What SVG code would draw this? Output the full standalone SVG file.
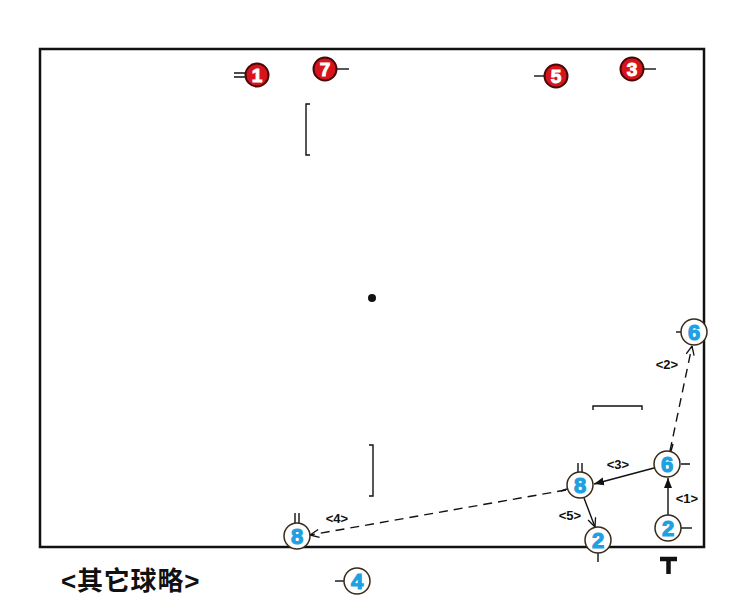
<svg xmlns="http://www.w3.org/2000/svg" width="743" height="600" viewBox="0 0 743 600">
<style>
.court{fill:none;stroke:#111;stroke-width:2.5}
.ln{stroke:#111;stroke-width:1.4;fill:none}
.red{fill:#d7141c;stroke:#4a0808;stroke-width:2}
.rt{font-family:"Liberation Sans",Arial,sans-serif;font-weight:bold;font-size:19px;fill:#fff;stroke:#fff;stroke-width:1;text-anchor:middle}
.blue{fill:#fff;stroke:#3a2a1a;stroke-width:1.5}
.bt{font-family:"Liberation Sans",Arial,sans-serif;font-weight:bold;font-size:22px;fill:#1ea0e2;stroke:#1ea0e2;stroke-width:1.2;text-anchor:middle}
.lab{font-family:"Liberation Sans",Arial,sans-serif;font-weight:bold;font-size:13px;fill:#111;text-anchor:middle}
.arr{stroke:#111;stroke-width:1.4;fill:none}
.dash{stroke-dasharray:9,6}
</style>
<defs>
<marker id="fill" viewBox="0 0 10 10" refX="10" refY="5" markerWidth="10" markerHeight="10" orient="auto" markerUnits="userSpaceOnUse">
<path d="M0,1 L10,5 L0,9 z" fill="#111"/>
</marker>
<marker id="open" viewBox="0 0 10 10" refX="10" refY="5" markerWidth="10" markerHeight="10" orient="auto" markerUnits="userSpaceOnUse">
<path d="M1,1 L10,5 L1,9" fill="none" stroke="#111" stroke-width="1.3"/>
</marker>
</defs>
<rect x="0" y="0" width="743" height="600" fill="#fff"/>
<rect class="court" x="40" y="49" width="664" height="498"/>
<g id="marks">
<path class="ln" d="M310,104 H306 V155 H310"/>
<path class="ln" d="M369,445 H373 V496 H369"/>
<circle cx="372" cy="298" r="4" fill="#111"/>
<path class="ln" d="M593,410 V406 H642 V410"/>
<path d="M660,559 H677 M668.5,559 V574" stroke="#111" stroke-width="4.5" fill="none"/>
</g>
<g id="connectors">
<line class="arr" x1="668" y1="515" x2="668" y2="478" marker-end="url(#fill)"/>
<line class="arr dash" x1="670" y1="451" x2="692" y2="346" marker-end="url(#open)"/>
<line class="arr" x1="654" y1="468" x2="594" y2="484" marker-end="url(#fill)"/>
<line class="arr dash" x1="566" y1="490" x2="310" y2="535" marker-end="url(#open)"/>
<line class="arr" x1="584" y1="498" x2="595" y2="527" marker-end="url(#open)"/>
<text class="lab" x="687" y="503">&lt;1&gt;</text>
<text class="lab" x="667" y="369">&lt;2&gt;</text>
<text class="lab" x="618" y="469">&lt;3&gt;</text>
<text class="lab" x="337" y="523">&lt;4&gt;</text>
<text class="lab" x="570" y="520">&lt;5&gt;</text>
</g>
<g id="r1"><path class="ln" d="M234,73 H246 M234,77 H246"/><circle class="red" cx="257" cy="75" r="11.5"/><text class="rt" x="257" y="82">1</text></g>
<g id="r7"><path class="ln" d="M336,69 H349"/><circle class="red" cx="325" cy="69" r="11.5"/><text class="rt" x="325" y="76">7</text></g>
<g id="r5"><path class="ln" d="M534,76 H545"/><circle class="red" cx="556" cy="76" r="11.5"/><text class="rt" x="556" y="83">5</text></g>
<g id="r3"><path class="ln" d="M643,69 H656"/><circle class="red" cx="632" cy="69" r="11.5"/><text class="rt" x="632" y="76">3</text></g>
<g id="b6a"><path class="ln" d="M676,332 H681"/><circle class="blue" cx="694" cy="332" r="13"/><text class="bt" x="694" y="340">6</text></g>
<g id="b6b"><path class="ln" d="M681,464 H690 M671,451 L673,444"/><circle class="blue" cx="667" cy="464" r="13"/><text class="bt" x="667" y="472">6</text></g>
<g id="b2a"><path class="ln" d="M681,528 H692"/><circle class="blue" cx="668" cy="528" r="13"/><text class="bt" x="668" y="536">2</text></g>
<g id="b8a"><path class="ln" d="M578,463 V472 M582,463 V472 M561,491 L567,489"/><circle class="blue" cx="580" cy="485" r="13"/><text class="bt" x="580" y="493">8</text></g>
<g id="b2b"><path class="ln" d="M598,553 V562"/><circle class="blue" cx="598" cy="540" r="13"/><text class="bt" x="598" y="548">2</text></g>
<g id="b8b"><path class="ln" d="M295,513 V523 M299,513 V523"/><circle class="blue" cx="297" cy="536" r="13"/><text class="bt" x="297" y="544">8</text></g>
<g id="b4"><path class="ln" d="M335,581 H344"/><circle class="blue" cx="357" cy="581" r="13"/><text class="bt" x="357" y="589">4</text></g>
<text x="61" y="590" font-family="'Liberation Sans','Noto Sans CJK SC',sans-serif" font-size="26" font-weight="bold" letter-spacing="0.8" fill="#111">&lt;其它球略&gt;</text>
</svg>
